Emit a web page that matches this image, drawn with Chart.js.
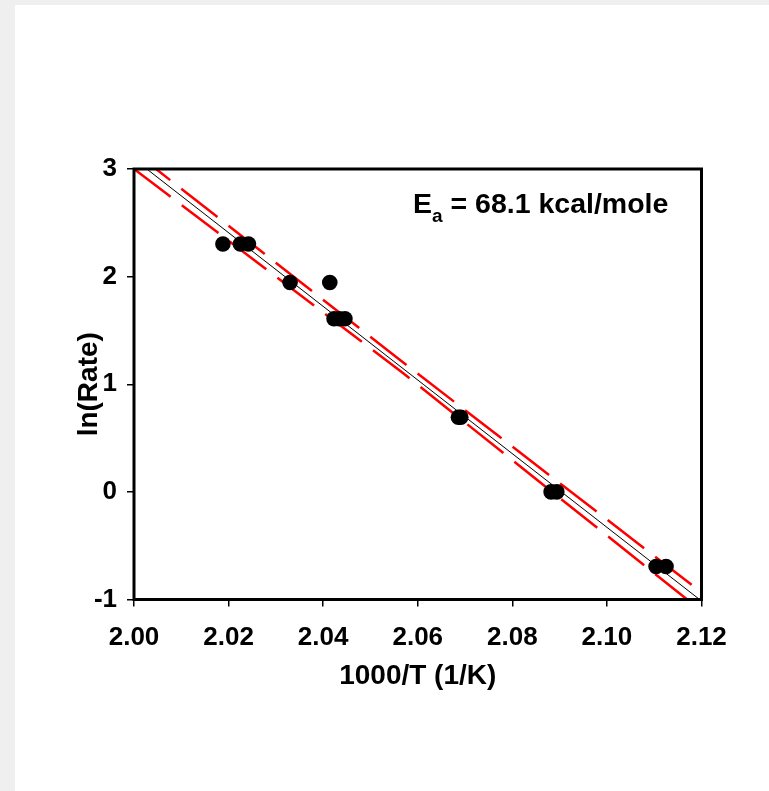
<!DOCTYPE html>
<html>
<head>
<meta charset="utf-8">
<title>ln(Rate) vs 1000/T</title>
<script src="https://cdn.jsdelivr.net/npm/chart.js@4.4.1/dist/chart.umd.min.js"></script>
<style>
  html, body { margin: 0; padding: 0; background: #efefef; }
  #panel { position: absolute; left: 15px; top: 5px; width: 754px; height: 786px; background: #ffffff; }
  #arrhenius { display: block; }
</style>
</head>
<body>
<div id="panel">
  <canvas id="arrhenius" width="754" height="786"></canvas>
</div>
<script>
// measured points (1000/T, ln rate)
const invTemp = [2.0188, 2.0225, 2.0242, 2.0330, 2.0414, 2.0423, 2.0434, 2.0446, 2.0686, 2.0691, 2.0882, 2.0894, 2.1104, 2.1125];
const lnRate  = [2.303, 2.303, 2.303, 1.946, 1.946, 1.609, 1.609, 1.609, 0.693, 0.693, 0.0, 0.0, -0.693, -0.693];

// regression line
const fitX = [2.0027, 2.1196];
const fitY = [3.0, -1.0];

// red dashed confidence band
const bandX  = [2.000, 2.057, 2.120];
const upperY = [3.16, 1.20, -0.934];
const lowerY = [3.00, 1.10, -1.106];

const xTicks = [2.00, 2.02, 2.04, 2.06, 2.08, 2.10, 2.12];
const yTicks = [-1, 0, 1, 2, 3];

const activationEnergy = "68.1";

const FONT = "'Liberation Sans', Arial, Helvetica, sans-serif";

function pairs(xs, ys) {
  return xs.map((x, i) => ({ x: x, y: ys[i] }));
}

// box around the plot + the Ea label
const frameAndLabel = {
  id: "frameAndLabel",
  afterDatasetsDraw(chart) {
    const ctx = chart.ctx;
    const a = chart.chartArea;
    ctx.save();
    ctx.strokeStyle = "#000";
    ctx.lineWidth = 3;
    ctx.strokeRect(a.left, a.top, a.right - a.left, a.bottom - a.top);

    // E_a = ... kcal/mole
    let x = a.left + 279;
    const base = a.top + 44;
    ctx.fillStyle = "#000";
    ctx.textBaseline = "alphabetic";
    ctx.textAlign = "left";
    ctx.font = "bold 28.5px " + FONT;
    ctx.fillText("E", x, base);
    x += ctx.measureText("E").width;
    ctx.font = "bold 19px " + FONT;
    ctx.fillText("a", x, base + 9);
    x += ctx.measureText("a").width;
    ctx.font = "bold 28.5px " + FONT;
    ctx.fillText(" = " + activationEnergy + " kcal/mole", x, base);
    ctx.restore();
  }
};

const ctx = document.getElementById("arrhenius").getContext("2d");

new Chart(ctx, {
  type: "scatter",
  data: {
    datasets: [
      {
        label: "data",
        data: pairs(invTemp, lnRate),
        backgroundColor: "#000",
        borderColor: "#000",
        pointRadius: 7.8,
        pointBorderWidth: 0,
        pointHoverRadius: 7.8
      },
      {
        label: "fit",
        data: pairs(fitX, fitY),
        showLine: true,
        borderColor: "#000",
        borderWidth: 1,
        pointRadius: 0,
        fill: false
      },
      {
        label: "upper",
        data: pairs(bandX, upperY),
        showLine: true,
        borderColor: "#ff0000",
        borderWidth: 2.5,
        borderDash: [46, 14],
        pointRadius: 0,
        fill: false
      },
      {
        label: "lower",
        data: pairs(bandX, lowerY),
        showLine: true,
        borderColor: "#ff0000",
        borderWidth: 2.5,
        borderDash: [46, 14],
        pointRadius: 0,
        fill: false
      }
    ]
  },
  options: {
    responsive: false,
    animation: false,
    layout: { padding: { left: 0, top: 164, right: 67.5, bottom: 91.5 } },
    plugins: {
      legend: { display: false },
      tooltip: { enabled: false }
    },
    scales: {
      x: {
        type: "linear",
        min: 2.00,
        max: 2.12,
        afterBuildTicks: (scale) => { scale.ticks = xTicks.map(v => ({ value: v })); },
        afterFit: (scale) => { scale.height = 100; },
        border: { display: false },
        grid: {
          drawOnChartArea: false,
          drawTicks: true,
          tickLength: 7,
          lineWidth: 1.5,
          color: "#000"
        },
        ticks: {
          color: "#000",
          font: { family: FONT, size: 26, weight: "bold" },
          padding: 16,
          maxRotation: 0,
          callback: (v) => Number(v).toFixed(2)
        },
        title: {
          display: true,
          text: "1000/T (1/K)",
          color: "#000",
          font: { family: FONT, size: 28, weight: "bold" },
          padding: { top: 0, bottom: 6 }
        }
      },
      y: {
        type: "linear",
        min: -1,
        max: 3,
        afterBuildTicks: (scale) => { scale.ticks = yTicks.map(v => ({ value: v })); },
        afterFit: (scale) => { scale.width = 119; },
        border: { display: false },
        grid: {
          drawOnChartArea: false,
          drawTicks: true,
          tickLength: 7,
          lineWidth: 1.5,
          color: "#000"
        },
        ticks: {
          color: "#000",
          font: { family: FONT, size: 26, weight: "bold" },
          padding: 10
        },
        title: {
          display: true,
          text: "ln(Rate)",
          color: "#000",
          font: { family: FONT, size: 28, weight: "bold" },
          padding: { top: 57, bottom: 0 }
        }
      }
    }
  },
  plugins: [frameAndLabel]
});
</script>
</body>
</html>
